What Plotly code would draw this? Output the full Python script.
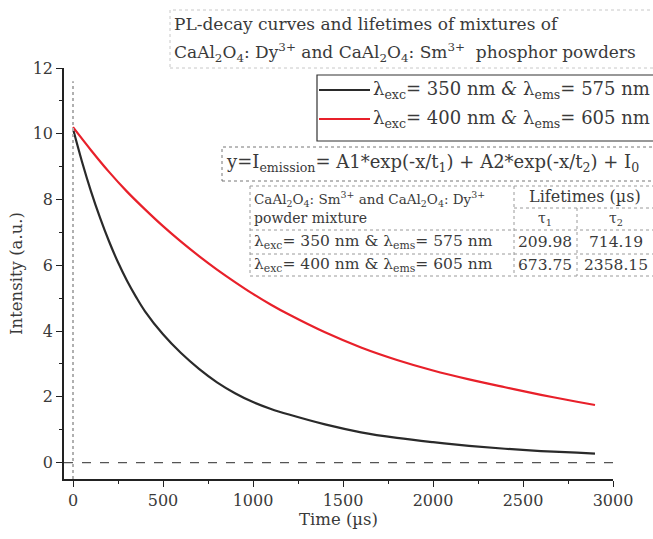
import plotly.graph_objects as go

# ---- data ----
time_black = [0, 50, 100, 150, 200, 250, 300, 350, 400, 500, 600, 700, 800, 900, 1000, 1100,
              1200, 1400, 1600, 1800, 2000, 2200, 2400, 2600, 2800, 2900]
int_black = [10.15, 9.15, 8.25, 7.45, 6.73, 6.09, 5.53, 5.04, 4.60, 3.90, 3.33, 2.85, 2.44, 2.11,
             1.84, 1.63, 1.46, 1.16, 0.92, 0.75, 0.62, 0.51, 0.42, 0.35, 0.30, 0.27]

time_red = [0, 100, 200, 300, 400, 500, 600, 700, 800, 900, 1000, 1100,
            1200, 1400, 1600, 1800, 2000, 2200, 2400, 2600, 2800, 2900]
int_red = [10.2, 9.50, 8.84, 8.24, 7.70, 7.19, 6.72, 6.28, 5.87, 5.49, 5.13, 4.80,
           4.50, 3.96, 3.50, 3.12, 2.80, 2.53, 2.29, 2.06, 1.85, 1.75]

legend_labels = ["λ<sub>exc</sub>= 350 nm <i>&amp;</i> λ<sub>ems</sub>= 575 nm",
                 "λ<sub>exc</sub>= 400 nm <i>&amp;</i> λ<sub>ems</sub>= 605 nm"]
tau1 = ["209.98", "673.75"]
tau2 = ["714.19", "2358.15"]
row_labels = ["λ<sub>exc</sub>= 350 nm &amp; λ<sub>ems</sub>= 575 nm",
              "λ<sub>exc</sub>= 400 nm &amp; λ<sub>ems</sub>= 605 nm"]
x_ticks = [0, 500, 1000, 1500, 2000, 2500, 3000]
y_ticks = [0, 2, 4, 6, 8, 10, 12]

W, H = 653, 539
L, R, T, B = 64, 613, 68, 479
FONT = "DejaVu Serif, Liberation Serif, serif"
TXT = "#3a3a3a"


def px(x):
    return (x - L) / (R - L)


def py(y):
    return (B - y) / (B - T)


fig = go.Figure()
fig.add_trace(go.Scatter(x=time_black, y=int_black, mode="lines", line_shape="spline",
                         line=dict(color="#2a2a2a", width=2.2), showlegend=False))
fig.add_trace(go.Scatter(x=time_red, y=int_red, mode="lines", line_shape="spline",
                         line=dict(color="#e8202a", width=2.2), showlegend=False))

shapes = []
ann = []

# reference lines
shapes.append(dict(type="line", xref="x", yref="y", x0=-50, x1=3000, y0=0, y1=0,
                   line=dict(color="#555", width=1.2, dash="dash")))
shapes.append(dict(type="line", xref="x", yref="y", x0=0, x1=0, y0=-0.5, y1=11.6,
                   line=dict(color="#b0b0b0", width=2, dash="dot")))

# title box
shapes.append(dict(type="rect", xref="paper", yref="paper", x0=px(170), x1=px(660),
                   y0=py(68), y1=py(10), line=dict(color="#c8c8c8", width=1, dash="dot")))
ann.append(dict(xref="paper", yref="paper", x=px(172), y=py(24), xanchor="left", yanchor="middle",
                text="PL-decay curves and lifetimes of mixtures of", showarrow=False,
                font=dict(family=FONT, size=17, color=TXT)))
ann.append(dict(xref="paper", yref="paper", x=px(172), y=py(52), xanchor="left", yanchor="middle",
                text="CaAl<sub>2</sub>O<sub>4</sub>: Dy<sup>3+</sup> and CaAl<sub>2</sub>O<sub>4</sub>: Sm<sup>3+</sup>  phosphor powders",
                showarrow=False, font=dict(family=FONT, size=17, color=TXT)))

# legend box
shapes.append(dict(type="rect", xref="paper", yref="paper", x0=px(317), x1=px(660),
                   y0=py(141), y1=py(75), line=dict(color="#333", width=1.2)))
for i, (lab, col) in enumerate(zip(legend_labels, ["#2a2a2a", "#e8202a"])):
    yc = 90 + i * 29
    shapes.append(dict(type="line", xref="paper", yref="paper", x0=px(319), x1=px(370),
                       y0=py(yc), y1=py(yc), line=dict(color=col, width=2.2)))
    ann.append(dict(xref="paper", yref="paper", x=px(371), y=py(yc), xanchor="left", yanchor="middle",
                    text=lab, showarrow=False, font=dict(family=FONT, size=18, color=TXT)))

# equation box
shapes.append(dict(type="rect", xref="paper", yref="paper", x0=px(222), x1=px(660),
                   y0=py(181), y1=py(147), line=dict(color="#777", width=1, dash="dot")))
ann.append(dict(xref="paper", yref="paper", x=px(224), y=py(163), xanchor="left", yanchor="middle",
                text="y=I<sub>emission</sub>= A1*exp(-x/t<sub>1</sub>) + A2*exp(-x/t<sub>2</sub>) + I<sub>0</sub>",
                showarrow=False, font=dict(family=FONT, size=18, color=TXT)))

# table
tl = dict(color="#9a9a9a", width=1, dash="dot")
for (x0, x1, y0, y1) in [(250, 660, 186, 186), (514, 660, 208, 208), (250, 660, 230, 230),
                         (250, 660, 254, 254), (250, 660, 276, 276),
                         (250, 250, 186, 276), (514, 514, 186, 276), (577, 577, 208, 276)]:
    shapes.append(dict(type="line", xref="paper", yref="paper", x0=px(x0), x1=px(x1),
                       y0=py(y0), y1=py(y1), line=tl))
ann.append(dict(xref="paper", yref="paper", x=px(252), y=py(199), xanchor="left", yanchor="middle",
                text="CaAl<sub>2</sub>O<sub>4</sub>: Sm<sup>3+</sup> and CaAl<sub>2</sub>O<sub>4</sub>: Dy<sup>3+</sup>",
                showarrow=False, font=dict(family=FONT, size=13.5, color=TXT)))
ann.append(dict(xref="paper", yref="paper", x=px(252), y=py(218), xanchor="left", yanchor="middle",
                text="powder mixture", showarrow=False, font=dict(family=FONT, size=14, color=TXT)))
ann.append(dict(xref="paper", yref="paper", x=px(585), y=py(197), xanchor="center", yanchor="middle",
                text="Lifetimes (µs)", showarrow=False, font=dict(family=FONT, size=16, color=TXT)))
ann.append(dict(xref="paper", yref="paper", x=px(545), y=py(219), xanchor="center", yanchor="middle",
                text="τ<sub>1</sub>", showarrow=False, font=dict(family=FONT, size=14, color=TXT)))
ann.append(dict(xref="paper", yref="paper", x=px(616), y=py(219), xanchor="center", yanchor="middle",
                text="τ<sub>2</sub>", showarrow=False, font=dict(family=FONT, size=14, color=TXT)))
for i in range(2):
    yc = 242 + i * 23
    ann.append(dict(xref="paper", yref="paper", x=px(252), y=py(yc), xanchor="left", yanchor="middle",
                    text=row_labels[i], showarrow=False, font=dict(family=FONT, size=15.5, color=TXT)))
    ann.append(dict(xref="paper", yref="paper", x=px(545), y=py(yc), xanchor="center", yanchor="middle",
                    text=tau1[i], showarrow=False, font=dict(family=FONT, size=15.5, color=TXT)))
    ann.append(dict(xref="paper", yref="paper", x=px(616), y=py(yc), xanchor="center", yanchor="middle",
                    text=tau2[i], showarrow=False, font=dict(family=FONT, size=15.5, color=TXT)))

fig.update_layout(
    width=W, height=H, margin=dict(l=L, r=W - R, t=T, b=H - B),
    paper_bgcolor="white", plot_bgcolor="white",
    font=dict(family=FONT, size=16, color=TXT),
    shapes=shapes, annotations=ann, showlegend=False,
    xaxis=dict(range=[-50, 3000], tickvals=x_ticks, ticks="outside", ticklen=6, tickwidth=1.3,
               tickcolor="#222", showline=True, linecolor="#222", linewidth=1.5,
               showgrid=False, zeroline=False,
               minor=dict(dtick=250, ticks="outside", ticklen=3, tickcolor="#222", tickwidth=1.2),
               title=dict(text="Time (µs)", font=dict(size=16.5), standoff=4),
               tickfont=dict(size=16)),
    yaxis=dict(range=[-0.5, 12], tickvals=y_ticks, ticks="outside", ticklen=6, tickwidth=1.3,
               tickcolor="#222", showline=True, linecolor="#222", linewidth=1.5,
               showgrid=False, zeroline=False,
               minor=dict(dtick=1, ticks="outside", ticklen=3, tickcolor="#222", tickwidth=1.2),
               title=dict(text="Intensity (a.u.)", font=dict(size=16.5), standoff=6),
               tickfont=dict(size=16)),
)

fig.write_html("out.html")
